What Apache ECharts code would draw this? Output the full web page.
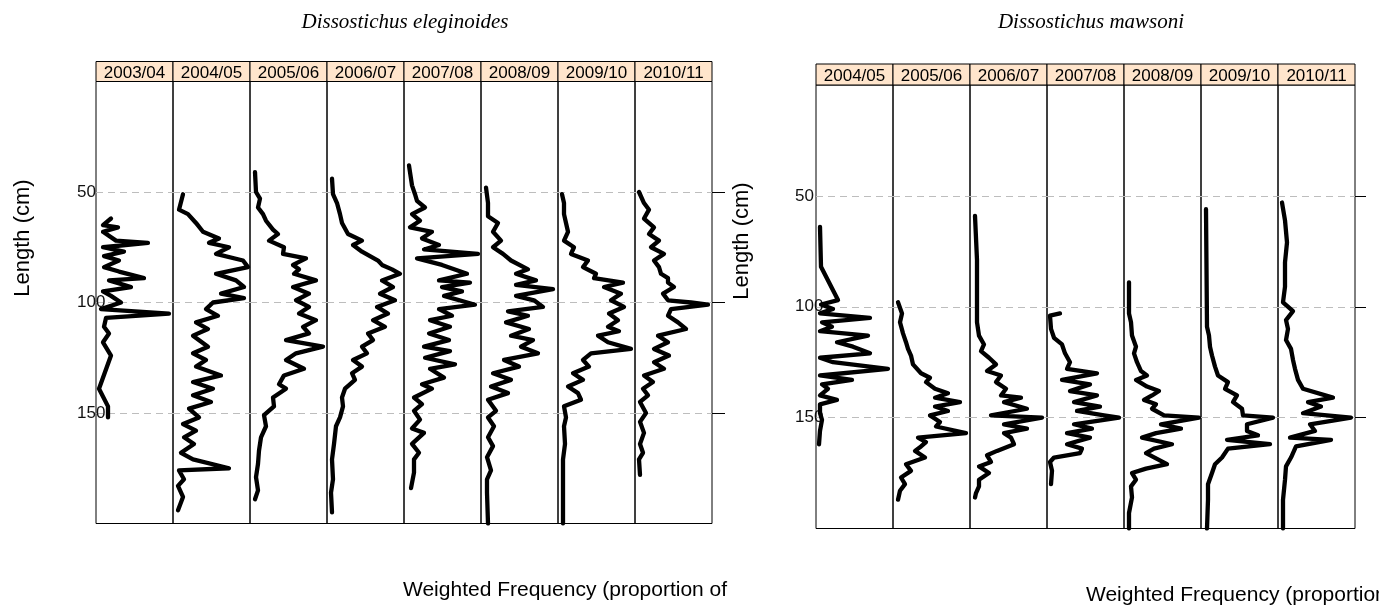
<!DOCTYPE html>
<html>
<head>
<meta charset="utf-8">
<title>Length frequency by season</title>
<script src="https://cdn.jsdelivr.net/npm/echarts@6/dist/echarts.min.js"></script>
<style>
  html, body { margin: 0; padding: 0; background: #fff; }
  #chart { width: 1379px; height: 607px; }
</style>
</head>
<body>
<div id="chart"></div>
<script>
  // seasons (strip labels)
  const eleSeasons = ['2003/04', '2004/05', '2005/06', '2006/07', '2007/08', '2008/09', '2009/10', '2010/11'];
  const mawSeasons = ['2004/05', '2005/06', '2006/07', '2007/08', '2008/09', '2009/10', '2010/11'];

  // [length (cm), weighted frequency (thousandths)]
  const ele0304 = [[62,15],[65,7],[66,22],[68,7],[72,20],[73,52],[75,7],[77,28],[79,8],[81,23],[84,8],[86,23],[89,48],[90,13],[93,35],[95,7],[97,15],[100,25],[103,5],[105,73],[107,10],[111,8],[114,13],[118,7],[124,15],[139,3],[147,12],[152,12]];
  const ele0405 = [[51,10],[58,6],[60,15],[64,23],[68,30],[71,46],[73,36],[75,56],[78,43],[81,70],[84,75],[87,43],[90,63],[93,71],[96,48],[98,71],[100,40],[103,33],[106,45],[109,23],[112,35],[115,20],[120,35],[123,20],[126,33],[129,23],[133,48],[136,20],[139,40],[142,20],[145,38],[148,16],[152,26],[155,10],[158,23],[161,11],[164,21],[168,8],[171,20],[175,56],[176,6],[180,11],[183,5],[188,10],[194,5]];
  const ele0506 = [[41,5],[50,6],[53,10],[57,8],[60,13],[63,16],[67,23],[69,28],[72,19],[75,34],[78,33],[80,56],[83,43],[85,49],[87,44],[90,66],[93,43],[96,59],[99,46],[102,59],[105,49],[108,66],[111,53],[114,59],[117,36],[120,73],[123,46],[126,36],[130,54],[133,34],[137,29],[139,36],[143,23],[147,24],[151,14],[156,16],[161,11],[167,9],[173,8],[179,6],[185,8],[189,5]];
  const ele0607 = [[44,5],[51,6],[55,10],[60,13],[64,15],[69,21],[72,35],[74,26],[77,35],[81,51],[83,55],[85,65],[87,73],[90,55],[93,66],[96,53],[99,68],[102,50],[105,61],[108,46],[111,58],[114,41],[117,46],[120,35],[123,40],[126,26],[129,35],[132,25],[135,28],[139,18],[143,15],[147,16],[152,13],[156,9],[164,7],[171,5],[180,6],[186,4],[195,5]];
  const ele0708 = [[38,5],[47,8],[51,11],[54,13],[57,21],[60,8],[63,16],[66,6],[68,28],[71,18],[74,35],[76,20],[78,74],[80,13],[83,38],[87,63],[90,35],[91,66],[93,38],[95,58],[97,40],[101,71],[103,35],[106,48],[108,26],[111,46],[114,25],[117,45],[120,20],[122,46],[125,21],[128,51],[130,26],[134,40],[137,18],[139,28],[143,10],[146,18],[149,10],[153,16],[157,8],[159,20],[164,8],[168,15],[171,10],[177,10],[184,7]];
  const ele0809 = [[48,5],[55,7],[61,7],[64,17],[68,12],[72,20],[75,12],[78,22],[81,30],[85,47],[87,35],[90,55],[92,35],[94,72],[97,35],[99,53],[102,62],[104,27],[106,47],[109,25],[112,48],[115,30],[117,52],[120,40],[123,57],[126,23],[129,38],[132,12],[135,30],[138,10],[141,27],[144,7],[149,15],[152,7],[156,13],[161,7],[165,12],[170,6],[176,10],[180,6],[186,6],[200,7]];
  const ele0910 = [[51,4],[55,6],[60,6],[64,8],[68,10],[72,6],[75,16],[78,13],[81,30],[84,25],[87,38],[89,36],[91,65],[93,46],[96,63],[99,53],[102,66],[105,51],[108,60],[111,50],[113,61],[115,40],[118,50],[121,73],[123,33],[126,25],[129,31],[132,15],[135,25],[138,10],[141,20],[144,23],[147,6],[152,8],[156,6],[164,7],[171,5],[186,5],[200,5]];
  const ele1011 = [[50,4],[55,9],[58,14],[62,9],[66,19],[69,14],[72,24],[75,16],[78,29],[81,19],[84,24],[87,26],[89,33],[91,33],[93,39],[96,28],[99,33],[100,56],[101,73],[103,36],[106,33],[109,43],[112,51],[115,23],[118,33],[121,19],[124,34],[127,19],[130,29],[133,9],[136,18],[139,8],[142,13],[145,5],[150,11],[154,5],[159,9],[164,5],[168,8],[171,4],[178,5]];

  const maw0405 = [[64,4],[82,5],[97,22],[99,5],[101,17],[103,4],[105,54],[107,6],[109,16],[111,4],[113,52],[116,21],[118,37],[121,54],[123,4],[125,17],[128,72],[131,4],[133,36],[135,6],[137,12],[140,4],[142,21],[144,4],[148,4],[151,6],[156,4],[162,3]];
  const maw0506 = [[98,5],[103,9],[107,7],[112,10],[116,13],[119,15],[122,18],[126,20],[130,28],[132,37],[134,33],[137,42],[139,55],[141,42],[143,67],[145,42],[147,55],[149,37],[152,47],[154,43],[157,73],[159,25],[161,33],[163,28],[165,22],[168,32],[171,13],[174,18],[177,8],[180,12],[183,7],[187,5]];
  const maw0607 = [[59,5],[79,7],[95,7],[107,7],[113,9],[117,14],[120,11],[123,19],[126,26],[129,17],[131,31],[134,26],[137,36],[140,31],[141,51],[143,34],[146,57],[149,21],[150,72],[153,34],[155,57],[157,34],[159,41],[162,44],[165,27],[167,17],[170,21],[172,9],[175,19],[178,9],[181,9],[184,6],[186,5]];
  const maw0708 = [[103,13],[104,3],[110,4],[114,7],[117,15],[121,18],[125,23],[128,20],[130,50],[133,15],[135,43],[138,23],[140,50],[143,27],[145,53],[147,30],[149,57],[150,72],[153,27],[155,45],[157,20],[159,43],[162,20],[164,35],[166,33],[168,7],[170,3],[174,5],[180,4]];
  const maw0809 = [[89,5],[103,5],[107,7],[113,8],[118,12],[121,10],[125,13],[129,17],[131,23],[133,12],[136,23],[138,35],[140,28],[142,20],[144,32],[146,28],[149,40],[150,75],[153,37],[155,57],[157,32],[159,18],[162,48],[164,30],[166,22],[171,43],[173,22],[175,8],[178,12],[181,7],[186,8],[193,5],[200,5]];
  const maw0910 = [[56,5],[109,6],[113,8],[118,9],[122,11],[127,14],[131,17],[134,27],[137,24],[140,36],[143,32],[146,41],[149,42],[150,72],[153,46],[156,46],[158,57],[160,26],[162,69],[164,27],[168,21],[171,14],[175,11],[180,7],[187,7],[200,6]];
  const maw1011 = [[53,4],[61,7],[71,9],[80,7],[91,7],[98,5],[102,15],[106,8],[110,10],[115,8],[119,13],[124,15],[128,17],[133,20],[137,25],[141,55],[143,30],[145,43],[148,25],[150,73],[153,32],[156,37],[159,12],[160,53],[163,18],[168,13],[172,8],[178,7],[187,5],[200,5]];

  const eleCurves = [ele0304, ele0405, ele0506, ele0607, ele0708, ele0809, ele0910, ele1011];
  const mawCurves = [maw0405, maw0506, maw0607, maw0708, maw0809, maw0910, maw1011];

  const lengthRange = [0, 200];
  const freqRange = [0, 77];

  const colW = 77;
  const panels = [
    { title: 'Dissostichus eleginoides', seasons: eleSeasons, curves: eleCurves,
      left: 96, top: 81.5, height: 442, headerTop: 61.5, labelMargin: 19, labelPad: 10, tickLen: 13,
      titleX: 405, ylabX: 23, ylabY: 238, xlabX: 403, xlabY: 580 },
    { title: 'Dissostichus mawsoni', seasons: mawSeasons, curves: mawCurves,
      left: 816, top: 85, height: 443.5, headerTop: 64, labelMargin: 21, labelPad: 7, tickLen: 11,
      titleX: 1091, ylabX: 742, ylabY: 241, xlabX: 1086, xlabY: 585 }
  ];

  const grid = [], xAxis = [], yAxis = [], series = [], graphic = [];
  const sansFont = '"Liberation Sans", Arial, sans-serif';

  panels.forEach(p => {
    p.seasons.forEach((season, i) => {
      const gi = grid.length;
      const x0 = p.left + i * colW;
      grid.push({
        left: x0, top: p.top, width: colW, height: p.height,
        show: true, borderColor: '#000', borderWidth: 1, backgroundColor: 'transparent'
      });
      xAxis.push({ gridIndex: gi, type: 'value', min: freqRange[0], max: freqRange[1], show: false });
      const yi = yAxis.length;
      yAxis.push({
        gridIndex: gi, type: 'value', inverse: true,
        min: lengthRange[0], max: lengthRange[1], interval: 50,
        axisLine: { show: false },
        axisTick: { show: false },
        axisLabel: {
          show: i === 0, showMinLabel: false, showMaxLabel: false,
          margin: p.labelMargin, align: 'left', verticalAlign: 'middle',
          padding: [p.labelPad, 0, 0, 0],
          color: '#111', fontSize: 17, fontFamily: sansFont
        },
        splitLine: {
          show: true, showMinLine: false, showMaxLine: false,
          lineStyle: { color: '#bdbdbd', width: 1, type: [7, 5] }
        }
      });
      if (i === p.seasons.length - 1) {
        // tick marks on the right side of the last column
        yAxis.push({
          gridIndex: gi, type: 'value', inverse: true, position: 'right',
          min: lengthRange[0], max: lengthRange[1], interval: 50,
          axisLine: { show: false },
          axisTick: { show: true, length: p.tickLen, customValues: [50, 100, 150], lineStyle: { color: '#000', width: 1 } },
          axisLabel: { show: false },
          splitLine: { show: false }
        });
      }
      series.push({
        type: 'line',
        xAxisIndex: gi, yAxisIndex: yi,
        data: p.curves[i].map(d => [d[1], d[0]]),
        showSymbol: false, symbol: 'none',
        lineStyle: { color: '#000', width: 4.3, cap: 'round', join: 'round' },
        silent: true, animation: false
      });
      const headerH = p.top - p.headerTop;
      graphic.push({
        type: 'rect', z: 10,
        shape: { x: x0, y: p.headerTop, width: colW, height: headerH },
        style: { fill: '#ffe5cc', stroke: '#000', lineWidth: 1 }
      });
      graphic.push({
        type: 'text', z: 11,
        style: {
          text: season, x: x0 + colW / 2, y: p.headerTop + headerH / 2 + 1.5,
          align: 'center', verticalAlign: 'middle',
          fill: '#000', fontSize: 17, fontFamily: sansFont
        }
      });
    });

    graphic.push({
      type: 'text', z: 11,
      style: {
        text: p.title, x: p.titleX, y: 22, align: 'center', verticalAlign: 'middle',
        fill: '#000', fontSize: 21, fontStyle: 'italic', fontFamily: '"Liberation Serif", "Times New Roman", serif'
      }
    });
    graphic.push({
      type: 'text', z: 11, x: p.ylabX, y: p.ylabY, rotation: Math.PI / 2,
      style: {
        text: 'Length (cm)', x: 0, y: 0, align: 'center', verticalAlign: 'middle',
        fill: '#000', fontSize: 22, fontFamily: sansFont
      }
    });
    graphic.push({
      type: 'text', z: 11,
      style: {
        text: 'Weighted Frequency (proportion of', x: p.xlabX, y: p.xlabY,
        align: 'left', verticalAlign: 'top',
        fill: '#000', fontSize: 21, fontFamily: sansFont
      }
    });
  });

  const chart = echarts.init(document.getElementById('chart'), null, { renderer: 'canvas' });
  chart.setOption({
    animation: false,
    backgroundColor: '#fff',
    grid, xAxis, yAxis, series, graphic
  });
  window.addEventListener('resize', () => chart.resize());
</script>
</body>
</html>
